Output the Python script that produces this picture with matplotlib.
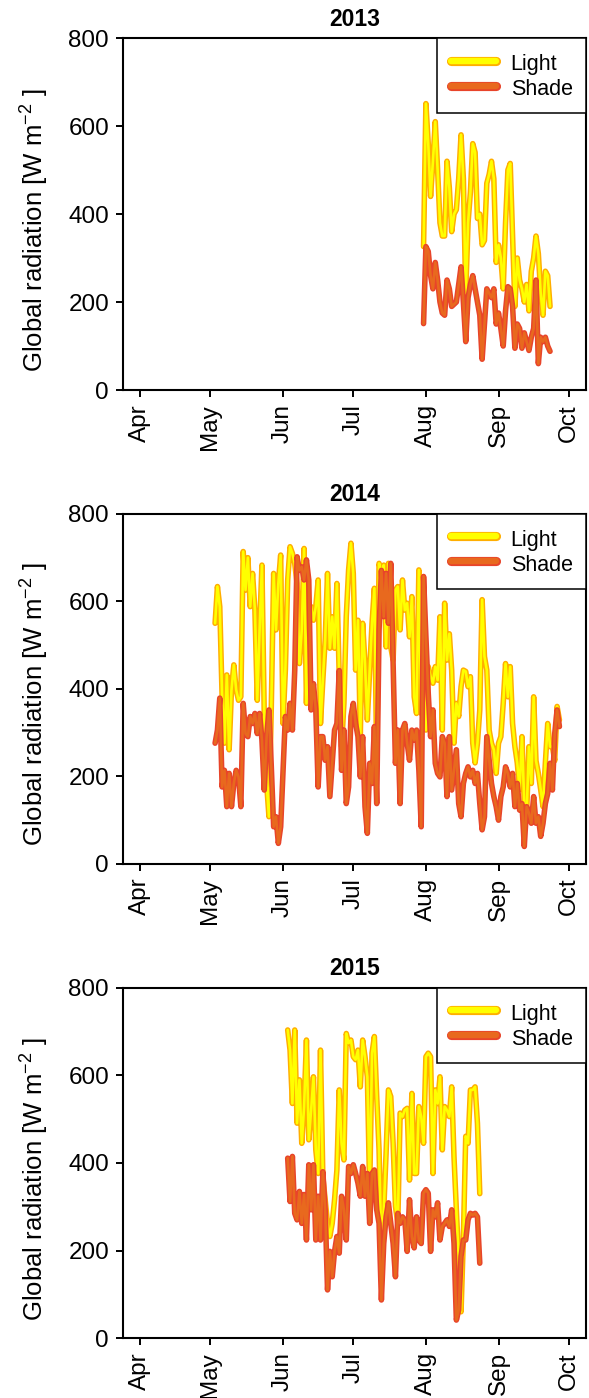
import datetime as dt
import matplotlib
matplotlib.use("Agg")
import matplotlib.pyplot as plt
import matplotlib.dates as mdates
import matplotlib.patheffects as pe
from matplotlib.lines import Line2D

plt.rcParams['font.family'] = 'Liberation Sans'
plt.rcParams['mathtext.fontset'] = 'custom'
plt.rcParams['mathtext.rm'] = 'Liberation Sans'
plt.rcParams['mathtext.it'] = 'Liberation Sans:italic'
plt.rcParams['mathtext.bf'] = 'Liberation Sans:bold'

# daily mean global radiation (W m-2), one value per day from the start date
start_2013 = dt.date(2013, 7, 31)
light_2013 = [326, 651, 560, 440, 520, 610, 500, 380, 350, 350,
              520, 460, 360, 400, 410, 480, 580, 480, 220, 380,
              450, 560, 540, 390, 400, 330, 340, 470, 490, 520,
              480, 290, 330, 300, 230, 380, 500, 515, 350, 190,
              300, 250, 230, 200, 240, 180, 270, 300, 350, 310,
              220, 170, 270, 260, 190]
shade_2013 = [151, 326, 315, 260, 230, 290, 250, 200, 175, 170,
              250, 230, 190, 195, 200, 240, 280, 200, 110, 210,
              240, 260, 230, 200, 170, 70, 150, 230, 220, 210,
              230, 150, 175, 140, 100, 180, 235, 230, 190, 95,
              150, 140, 95, 130, 110, 90, 120, 140, 250, 60,
              120, 110, 120, 100, 88]

start_2014 = dt.date(2014, 5, 3)
light_2014 = [550, 634, 588, 382, 276, 432, 261, 398, 455, 398,
              374, 382, 714, 626, 700, 588, 664, 580, 374, 535,
              683, 337, 184, 108, 360, 664, 535, 641, 706, 321,
              443, 649, 725, 710, 687, 641, 458, 535, 721, 367,
              580, 588, 557, 588, 649, 321, 420, 512, 664, 493,
              565, 493, 641, 428, 268, 367, 565, 672, 733, 664,
              443, 557, 298, 550, 458, 329, 443, 550, 630, 237,
              687, 664, 683, 496, 687, 496, 466, 626, 634, 535,
              649, 580, 596, 519, 611, 382, 344, 672, 344, 398,
              306, 451, 428, 413, 451, 420, 565, 306, 596, 466,
              526, 443, 276, 367, 337, 405, 443, 440, 405, 428,
              276, 231, 276, 352, 604, 474, 443, 306, 276, 261,
              207, 276, 291, 367, 458, 382, 451, 321, 268, 231,
              170, 291, 137, 116, 268, 184, 382, 236, 207, 170,
              131, 231, 321, 268, 268, 236, 360, 329]
shade_2014 = [276, 306, 379, 176, 214, 131, 207, 131, 184, 214,
              199, 131, 367, 298, 291, 337, 321, 344, 298, 344,
              283, 169, 291, 352, 222, 85, 108, 47, 85, 214,
              337, 306, 367, 306, 442, 702, 671, 679, 649, 695,
              649, 352, 412, 352, 176, 291, 291, 237, 268, 154,
              230, 306, 321, 442, 214, 306, 138, 176, 337, 367,
              321, 291, 199, 291, 131, 70, 230, 184, 314, 138,
              535, 671, 565, 664, 550, 687, 459, 230, 306, 138,
              306, 321, 276, 237, 306, 283, 306, 214, 85, 657,
              520, 390, 291, 352, 230, 207, 199, 291, 276, 154,
              291, 169, 214, 261, 138, 108, 184, 207, 222, 199,
              214, 184, 207, 138, 78, 108, 291, 237, 184, 154,
              131, 100, 154, 176, 222, 207, 176, 207, 131, 184,
              123, 138, 40, 131, 116, 93, 154, 93, 108, 63,
              93, 138, 161, 230, 169, 298, 352, 314]

start_2015 = dt.date(2015, 6, 3)
light_2015 = [704, 658, 536, 704, 491, 590, 445, 529, 681, 453,
              521, 597, 430, 376, 658, 369, 316, 262, 232, 262,
              316, 384, 567, 445, 407, 696, 674, 681, 643, 636,
              658, 574, 681, 643, 597, 338, 651, 689, 552, 430,
              198, 292, 422, 567, 552, 445, 301, 262, 514, 506,
              521, 525, 361, 559, 376, 376, 529, 506, 445, 643,
              651, 643, 376, 567, 536, 597, 430, 529, 521, 506,
              574, 413, 293, 180, 60, 230, 461, 445, 567, 567,
              574, 491, 330]
shade_2015 = [411, 312, 415, 285, 270, 335, 262, 328, 224, 396,
              293, 396, 224, 324, 224, 380, 293, 110, 198, 140,
              198, 232, 194, 324, 293, 224, 392, 376, 396, 376,
              354, 324, 392, 324, 376, 262, 376, 384, 293, 262,
              87, 216, 277, 309, 262, 216, 140, 285, 262, 277,
              270, 198, 316, 232, 206, 277, 224, 216, 331, 339,
              331, 198, 293, 277, 309, 224, 255, 262, 270, 255,
              293, 216, 41, 64, 187, 224, 224, 270, 285, 281,
              285, 277, 171]

years = [2013, 2014, 2015]
starts = [start_2013, start_2014, start_2015]
light = [light_2013, light_2014, light_2015]
shade = [shade_2013, shade_2014, shade_2015]

yticks = [0, 200, 400, 600, 800]
series_names = ['Light', 'Shade']

light_fill, light_edge = '#FFFF00', '#FFAE00'
shade_fill, shade_edge = '#E8691E', '#E8442A'


def outlined(fill, edge, inner, outer):
    return dict(color=fill, lw=inner, solid_capstyle='round', solid_joinstyle='round',
                path_effects=[pe.Stroke(linewidth=outer, foreground=edge,
                                        capstyle='round', joinstyle='round'),
                              pe.Normal()])


fig = plt.figure(figsize=(5.89, 13.98), dpi=100)
bottoms = [0.7210, 0.3820, 0.0429]
heights = [0.2518, 0.2504, 0.2504]

for k in range(3):
    ax = fig.add_axes([0.2088, bottoms[k], 0.786, heights[k]])
    yr = years[k]
    days = [starts[k] + dt.timedelta(days=i) for i in range(len(light[k]))]
    ax.plot(days, light[k], **outlined(light_fill, light_edge, 1.9, 4.0))
    ax.plot(days, shade[k], **outlined(shade_fill, shade_edge, 1.9, 4.0))

    # R-style 4% padding around Apr 1 .. Oct 1
    x0 = mdates.date2num(dt.date(yr, 4, 1))
    x1 = mdates.date2num(dt.date(yr, 10, 1))
    pad = (x1 - x0) * 0.04
    ax.set_xlim(x0 - pad, x1 + pad)
    ax.set_ylim(0, 800)
    ax.set_yticks(yticks)
    ax.xaxis.set_major_locator(mdates.MonthLocator(bymonth=range(4, 11)))
    ax.xaxis.set_major_formatter(mdates.DateFormatter('%b'))
    ax.tick_params(direction='out', length=5, width=1.4, labelsize=17.5, pad=5)
    ax.tick_params(axis='x', labelrotation=90)
    for s in ax.spines.values():
        s.set_linewidth(1.5)

    ax.set_title(str(yr), fontsize=16.5, fontweight='bold', pad=9)
    ax.set_ylabel('Global radiation [W m$^{-2}$ ]', fontsize=18.5)
    ax.yaxis.set_label_coords(-0.155, 0.455)

    handles = [Line2D([], [], **outlined(light_fill, light_edge, 4.6, 6.6)),
               Line2D([], [], **outlined(shade_fill, shade_edge, 4.6, 6.6))]
    leg = ax.legend(handles, series_names, loc='upper right', borderaxespad=0,
                    fancybox=False, edgecolor='black', framealpha=1, fontsize=15.5,
                    handlelength=2.1, handletextpad=0.68, borderpad=0.62,
                    handleheight=1.2, labelspacing=0.08)
    leg.get_frame().set_linewidth(1.1)

fig.savefig('out.png', dpi=100)
